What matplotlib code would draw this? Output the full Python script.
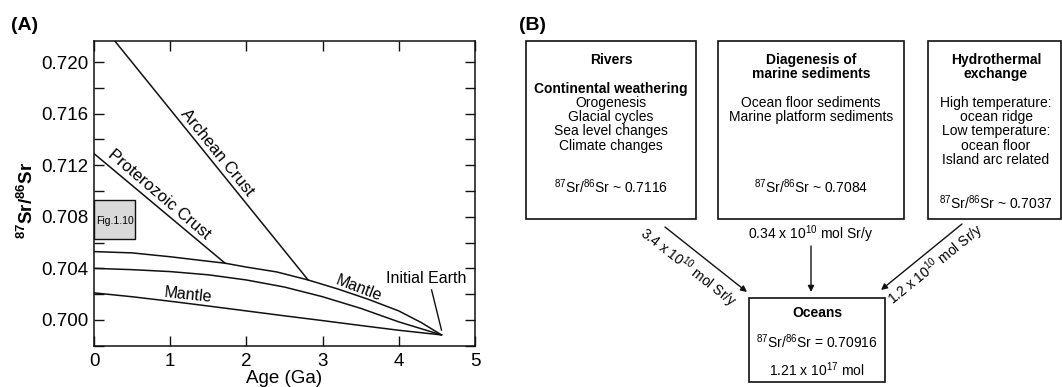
import matplotlib
matplotlib.use('Agg')
import matplotlib.pyplot as plt
import matplotlib.ticker as mticker
from matplotlib.patches import Rectangle

plt.rcParams['font.family'] = ['Liberation Sans', 'DejaVu Sans']
plt.rcParams['mathtext.default'] = 'regular'

# ---- panel A data: Sr isotope evolution curves (age in Ga, 87Sr/86Sr) ----
archean_age = [0.25, 2.81]
archean_sr = [0.7218, 0.7031]

proterozoic_age = [0.0, 1.72]
proterozoic_sr = [0.7129, 0.7044]

upper_mantle_age = [0.0, 0.5, 1.0, 1.5, 1.72, 2.0, 2.4, 2.81, 3.2, 3.6, 4.0, 4.3, 4.56]
upper_mantle_sr = [0.7053, 0.7052, 0.7049, 0.70455, 0.7044, 0.7041, 0.70372, 0.7031,
                   0.7024, 0.7016, 0.7007, 0.69978, 0.69884]

mid_mantle_age = [0.0, 0.5, 1.0, 1.5, 2.0, 2.5, 3.0, 3.5, 4.0, 4.56]
mid_mantle_sr = [0.7040, 0.7039, 0.70375, 0.7035, 0.7031, 0.70255, 0.7018, 0.7009,
                 0.69985, 0.69884]

low_mantle_age = [0.0, 0.5, 1.0, 1.5, 2.0, 2.5, 3.0, 3.5, 4.0, 4.56]
low_mantle_sr = [0.7021, 0.7018, 0.70145, 0.70108, 0.7007, 0.70032, 0.69995, 0.69957,
                 0.6992, 0.69884]

initial_earth = (4.56, 0.69884)
fig110_age = (0.0, 0.54)
fig110_sr = (0.70626, 0.70930)

# ---- panel B data: Sr budget of the oceans ----
river_lines = ['Rivers', '', 'Continental weathering', 'Orogenesis', 'Glacial cycles',
               'Sea level changes', 'Climate changes']
river_bold = [True, False, True, False, False, False, False]
diag_lines = ['Diagenesis of', 'marine sediments', '', 'Ocean floor sediments',
              'Marine platform sediments']
diag_bold = [True, True, False, False, False]
hydro_lines = ['Hydrothermal', 'exchange', '', 'High temperature:', 'ocean ridge',
               'Low temperature:', 'ocean floor', 'Island arc related']
hydro_bold = [True, True, False, False, False, False, False, False]
source_ratios = ['0.7116', '0.7084', '0.7037']
fluxes = ['3.4', '0.34', '1.2']
ocean_ratio = '0.70916'
ocean_mass = ('1.21', '17')

SR = r'$^{87}$Sr/$^{86}$Sr'

fig = plt.figure(figsize=(10.62, 3.87), dpi=100)

# ---------------- panel B (pixel-coordinate canvas) ----------------
axb = fig.add_axes([0, 0, 1, 1], zorder=0)
axb.set_xlim(0, 1062)
axb.set_ylim(387, 0)
axb.axis('off')

boxes = [(526, 41, 696, 219), (718, 41, 904, 219), (928, 41, 1061, 219)]
centers = [611, 811, 996]
ratio_y = [187, 187, 203]
blocks = [(river_lines, river_bold), (diag_lines, diag_bold), (hydro_lines, hydro_bold)]
fs_b = 10
for (x0, y0, x1, y1), cx, ry, (lines, bold), r in zip(boxes, centers, ratio_y, blocks, source_ratios):
    axb.add_patch(Rectangle((x0, y0), x1 - x0, y1 - y0, fill=False, ec='#111111', lw=1.2))
    for i, (t, b) in enumerate(zip(lines, bold)):
        if t:
            axb.text(cx, 60 + 14.3 * i, t, ha='center', va='center', fontsize=fs_b,
                     fontweight='bold' if b else 'normal')
    axb.text(cx, ry, SR + ' ~ ' + r, ha='center', va='center', fontsize=fs_b)

# oceans box
ox0, oy0, ox1, oy1 = 749, 298, 885, 382
axb.add_patch(Rectangle((ox0, oy0), ox1 - ox0, oy1 - oy0, fill=False, ec='#111111', lw=1.2))
axb.text(817, 313, 'Oceans', ha='center', va='center', fontsize=fs_b, fontweight='bold')
axb.text(817, 341.5, SR + ' = ' + ocean_ratio, ha='center', va='center', fontsize=fs_b)
axb.text(817, 369.5, ocean_mass[0] + r' x 10$^{' + ocean_mass[1] + '}$ mol',
         ha='center', va='center', fontsize=fs_b)

# flux arrows
arrows = [((665, 227), (747, 292)), ((811, 246), (811, 292)), ((962, 224), (881, 290))]
for start, end in arrows:
    axb.annotate('', xy=end, xytext=start,
                 arrowprops=dict(arrowstyle='-|>', color='#111111', lw=1.0,
                                 mutation_scale=9, shrinkA=0, shrinkB=0))

flux_pos = [(688, 268, -38), (811, 234, 0), (936, 265, 39)]
for f, (x, y, rot) in zip(fluxes, flux_pos):
    axb.text(x, y, f + r' x 10$^{10}$ mol Sr/y', ha='center', va='center', fontsize=fs_b,
             rotation=rot, rotation_mode='anchor')

fig.text(533 / 1062, 1 - 26 / 387, '(B)', ha='center', va='center', fontsize=14,
         fontweight='bold')

# ---------------- panel A ----------------
ax = fig.add_axes([94 / 1062, 1 - 346 / 387, 381 / 1062, 305 / 387], zorder=2)
lc = '#111111'
lw = 1.1
ax.plot(archean_age, archean_sr, color=lc, lw=lw)
ax.plot(proterozoic_age, proterozoic_sr, color=lc, lw=lw)
ax.plot(upper_mantle_age, upper_mantle_sr, color=lc, lw=lw)
ax.plot(mid_mantle_age, mid_mantle_sr, color=lc, lw=lw)
ax.plot(low_mantle_age, low_mantle_sr, color=lc, lw=lw)

ax.add_patch(Rectangle((fig110_age[0], fig110_sr[0]), fig110_age[1] - fig110_age[0],
                       fig110_sr[1] - fig110_sr[0], fc='#d9d9d9', ec=lc, lw=1.0,
                       clip_on=False, zorder=3))
ax.text(0.27, 0.70765, 'Fig.1.10', ha='center', va='center', fontsize=7.5, zorder=4)

ax.text(1.62, 0.71298, 'Archean Crust', ha='center', va='center', fontsize=12,
        rotation=-51, rotation_mode='anchor')
ax.text(0.855, 0.70975, 'Proterozoic Crust', ha='center', va='center', fontsize=12,
        rotation=-40.5, rotation_mode='anchor')
ax.text(3.48, 0.70246, 'Mantle', ha='center', va='center', fontsize=11.5,
        rotation=-21, rotation_mode='anchor')
ax.text(1.24, 0.70194, 'Mantle', ha='center', va='center', fontsize=11.5,
        rotation=-6, rotation_mode='anchor')
ax.text(4.365, 0.70323, 'Initial Earth', ha='center', va='center', fontsize=11.5)
ax.plot([4.43, initial_earth[0]], [0.70233, 0.69922], color=lc, lw=1.0)

ax.set_xlim(0, 5)
ax.set_ylim(0.69798, 0.72163)
ax.set_xticks([0, 1, 2, 3, 4, 5])
ax.yaxis.set_major_locator(mticker.MultipleLocator(0.004))
ax.yaxis.set_minor_locator(mticker.MultipleLocator(0.002))
ax.yaxis.set_major_formatter(mticker.FormatStrFormatter('%.3f'))
ax.tick_params(axis='both', which='both', direction='in', top=True, right=True,
               length=7, width=1.0, labelsize=13.5, color=lc)
ax.tick_params(axis='x', pad=5)
ax.tick_params(axis='y', pad=4)
for s in ax.spines.values():
    s.set_linewidth(1.1)
    s.set_color(lc)
ax.set_xlabel('Age (Ga)', fontsize=13.5, labelpad=0)
fig.text(27 / 1062, 1 - 200 / 387, SR, rotation=90, ha='center', va='center',
         fontsize=13.5, fontweight='bold')
fig.text(25 / 1062, 1 - 26 / 387, '(A)', ha='center', va='center', fontsize=14,
         fontweight='bold')

fig.savefig('out.png', dpi=100)
